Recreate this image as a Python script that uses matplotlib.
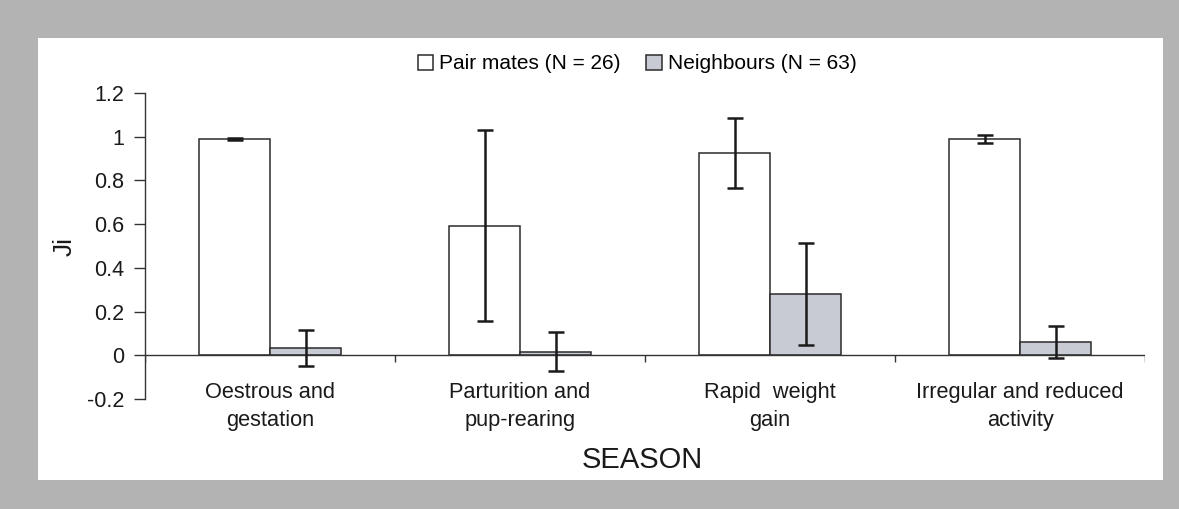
import matplotlib.pyplot as plt
from matplotlib.patches import Rectangle
import numpy as np

plt.rcParams['font.family'] = ['Liberation Sans', 'DejaVu Sans']

seasons = ['Oestrous and\ngestation', 'Parturition and\npup-rearing',
           'Rapid  weight\ngain', 'Irregular and reduced\nactivity']
pair_mates = [0.99, 0.593, 0.924, 0.99]
pair_err = [0.004, 0.437, 0.16, 0.02]
neighbours = [0.032, 0.016, 0.279, 0.061]
neigh_err = [0.082, 0.089, 0.233, 0.072]
yticks = [-0.2, 0, 0.2, 0.4, 0.6, 0.8, 1, 1.2]
ytick_labels = ['-0.2', '0', '0.2', '0.4', '0.6', '0.8', '1', '1.2']

W, H = 1179, 509
fig = plt.figure(figsize=(W / 100, H / 100), dpi=100, facecolor='#b3b3b3')
fig.patches.append(Rectangle((38 / W, 1 - 480 / H), (1163 - 38) / W, (480 - 38) / H,
                             transform=fig.transFigure, facecolor='white',
                             edgecolor='none', zorder=-5))

ax = fig.add_axes([145 / W, 1 - 399 / H, 1000 / W, 306 / H])
ax.set_facecolor('none')

x = np.arange(len(seasons)) + 0.5
bw = 0.284
err_kw = dict(ecolor='#1a1a1a', elinewidth=1.8, capsize=5.5, capthick=1.8)
b1 = ax.bar(x - bw / 2, pair_mates, bw, yerr=pair_err, color='white',
            edgecolor='#2b2b2b', linewidth=1.1, error_kw=err_kw,
            label='Pair mates (N = 26)')
b2 = ax.bar(x + bw / 2, neighbours, bw, yerr=neigh_err, color='#c8cbd3',
            edgecolor='#2b2b2b', linewidth=1.1, error_kw=err_kw,
            label='Neighbours (N = 63)')

# horizontal axis line at zero with category separators
ax.axhline(0, color='#333333', linewidth=1, zorder=1)
ax.vlines(np.arange(0, len(seasons) + 1), -0.032, 0, color='#333333', linewidth=1)

for xi, lab in zip(x, seasons):
    ax.text(xi, -0.122, lab, ha='center', va='top', fontsize=15.7, color='#1a1a1a',
            linespacing=1.45)

ax.set_xlim(0, len(seasons))
ax.set_ylim(-0.2, 1.2)
ax.set_xticks([])
ax.set_yticks(yticks)
ax.set_yticklabels(ytick_labels)
ax.tick_params(axis='y', labelsize=15.5, length=8, width=1, color='#333333',
               labelcolor='#1a1a1a', pad=7)
for s in ['top', 'right', 'bottom']:
    ax.spines[s].set_visible(False)
ax.spines['left'].set_color('#333333')
ax.spines['left'].set_linewidth(1)

ax.set_ylabel('Ji', fontsize=19, color='#1a1a1a', labelpad=7)
fig.text(0.5445, 1 - 460 / H, 'SEASON', ha='center', va='center',
         fontsize=21, color='#1a1a1a')

ax.legend(loc='center', bbox_to_anchor=(0.492, 1.095), ncol=2, frameon=False,
          fontsize=15, handlelength=0.75, handleheight=0.75, handletextpad=0.3,
          columnspacing=1.2)

fig.savefig('out.png', dpi=100, facecolor=fig.get_facecolor())
